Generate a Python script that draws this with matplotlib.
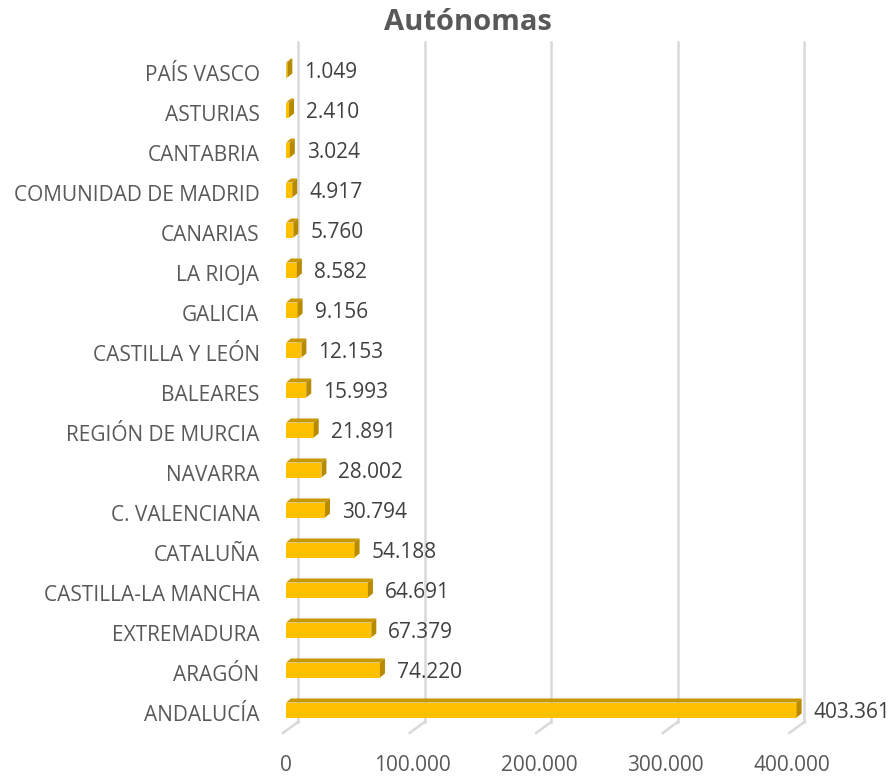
import matplotlib
matplotlib.use("Agg")
import matplotlib.pyplot as plt
from matplotlib.patches import Polygon

categories = ["ANDALUCÍA", "ARAGÓN", "EXTREMADURA", "CASTILLA-LA MANCHA", "CATALUÑA",
              "C. VALENCIANA", "NAVARRA", "REGIÓN DE MURCIA", "BALEARES", "CASTILLA Y LEÓN",
              "GALICIA", "LA RIOJA", "CANARIAS", "COMUNIDAD DE MADRID", "CANTABRIA",
              "ASTURIAS", "PAÍS VASCO"]
values = [403361, 74220, 67379, 64691, 54188, 30794, 28002, 21891, 15993, 12153,
          9156, 8582, 5760, 4917, 3024, 2410, 1049]
xticks = [0, 100000, 200000, 300000, 400000]
title = "Autónomas"

plt.rcParams['font.family'] = ['Open Sans', 'DejaVu Sans']
W, H = 896, 777
fig = plt.figure(figsize=(W / 100, H / 100), dpi=100)
left_px, right_px, bottom_px, top_px = 286, 805, 733, 53
ax = fig.add_axes([left_px / W, 1 - bottom_px / H, (right_px - left_px) / W, (bottom_px - top_px) / H])
xmax = 410000
ax.set_xlim(0, xmax)
ax.set_ylim(-0.5, len(categories) - 0.5)

px_x = xmax / (right_px - left_px)          # data units per pixel (x)
px_y = len(categories) / (bottom_px - top_px)  # data units per pixel (y)

# back wall gridlines with floor diagonal (3D depth)
gdx, gdy = 12 * px_x, 11 * px_y
ylo, yhi = -0.5, len(categories) - 0.5
for t in xticks:
    ax.plot([t + gdx, t + gdx], [ylo + gdy, yhi + gdy], color="#D9D9D9", lw=1.8, zorder=1, clip_on=False)
    ax.plot([t - 3 * px_x, t + gdx], [ylo, ylo + gdy], color="#D9D9D9", lw=1.8, zorder=1, clip_on=False)

# 3D bars
bh = 15 * px_y
bdx, bdy = 5 * px_x, 4 * px_y
front_c, top_c, side_c = "#FFC000", "#C89600", "#B88A00"
for i, v in enumerate(values):
    yc = i + 3 * px_y
    y0, y1 = yc - bh / 2, yc + bh / 2
    ax.barh(yc, v, height=bh, color=front_c, zorder=3, linewidth=0)
    ax.add_patch(Polygon([(0, y1), (v, y1), (v + bdx, y1 + bdy), (bdx, y1 + bdy)],
                         closed=True, facecolor=top_c, edgecolor="none", zorder=3))
    ax.add_patch(Polygon([(v, y0), (v + bdx, y0 + bdy), (v + bdx, y1 + bdy), (v, y1)],
                         closed=True, facecolor=side_c, edgecolor="none", zorder=4))
    lab = f"{v:,}".replace(",", ".")
    ax.text(v + bdx + 12 * px_x, i, lab, va="center", ha="left", fontsize=15, color="#404040", zorder=5)

for s in ax.spines.values():
    s.set_visible(False)
ax.set_yticks(range(len(categories)))
ax.set_yticklabels(categories, fontsize=15, color="#595959")
ax.set_xticks(xticks)
ax.set_xticklabels([f"{t:,}".replace(",", ".") for t in xticks], fontsize=15, color="#595959")
ax.tick_params(axis="y", length=0, pad=19)
ax.tick_params(axis="x", length=0, pad=16)

fig.text(468 / W, 1 - 23 / H, title, ha="center", va="center", fontsize=21, fontweight="bold", color="#595959")

fig.savefig("out.png", dpi=100)
